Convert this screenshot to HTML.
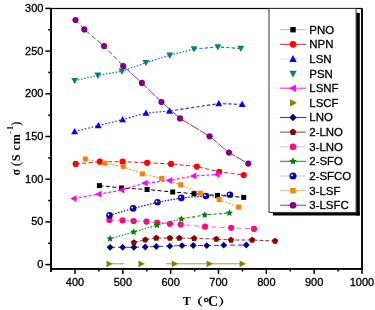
<!DOCTYPE html>
<html><head><meta charset="utf-8"><style>
html,body{margin:0;padding:0;background:#fff;width:375px;height:310px;overflow:hidden}
body{position:relative;font-family:"Liberation Sans",sans-serif}
text{fill:#000;stroke:#000;stroke-width:0.3px}
</style></head><body>
<svg width="375" height="310" viewBox="0 0 375 310" style="position:absolute;left:0;top:0;will-change:transform"><rect width="375" height="310" fill="#ffffff"/><polyline points="99.4,185.6 121.6,188 147.1,189.5 172.7,192 194,193.7 217.5,195.4 243.7,197.4" fill="none" stroke="#000" stroke-width="1.0" stroke-dasharray="4,2.5"/><polyline points="75.7,163.9 99.8,161.7 122.6,161.7 147.1,162.8 171,163.9 196.8,166.6 219.2,171.8 243.7,175" fill="none" stroke="#e02020" stroke-width="1.0" stroke-dasharray="4,2.5"/><polyline points="74.6,131.6 98.3,125.6 122.6,119.6 146,113 169.6,111" fill="none" stroke="#2828d8" stroke-width="1.15" stroke-dasharray="1.6,1.9"/><polyline points="169.6,111 218.8,103.6 242.2,104.4" fill="none" stroke="#2828d8" stroke-width="1.15" stroke-dasharray="3.2,2.2"/><polyline points="74.7,80.7 97.9,75.3 121.9,71.3 145.9,62.7 169.9,55.3 194,49" fill="none" stroke="#108080" stroke-width="1.15" stroke-dasharray="1.6,1.6"/><polyline points="194,49 217.9,46.9 240.8,48.5" fill="none" stroke="#108080" stroke-width="1.15" stroke-dasharray="3.2,2.2"/><polyline points="73.8,198.6 98.7,194.2 121.6,190.1 144.9,183.1 169.5,180.5 193.6,176 217,174.5" fill="none" stroke="#e020e0" stroke-width="1.2" stroke-dasharray="3,2"/><polyline points="109.2,263.8 124.4,263.8" fill="none" stroke="#a0a040" stroke-width="1.0"/><polyline points="166,263.8 242.3,263.8" fill="none" stroke="#a0a040" stroke-width="1.0"/><polyline points="110.1,247.3 122.7,247.3 133.9,247.3 145.3,247 156.3,246.5 169.9,246.2 182,245.6 193.3,245.5 206.8,245.6 223.7,245.2 246.3,245" fill="none" stroke="#3a3a9a" stroke-width="1.0" stroke-dasharray="5,3"/><polyline points="133.9,242.6 145.3,239.8 156.3,238.1 169.9,238.1 179.3,238.1 194.1,238.4 216.3,239.1 231,240 252.2,240 275,241.1" fill="none" stroke="#903030" stroke-width="1.0" stroke-dasharray="4,2"/><polyline points="109.4,219.9 122.5,220.4 133.6,221 146.5,221.6 157.2,222.5 169.9,223.8 180.7,224.6 205,226.7 231.2,227.8 253.9,228.9" fill="none" stroke="#e070a8" stroke-width="1.0" stroke-dasharray="5,3.5"/><polyline points="110.1,238.8 133.7,232 157,225.2 181.4,218.9" fill="none" stroke="#209020" stroke-width="1.2" stroke-dasharray="1.5,1.5"/><polyline points="181.4,218.9 204.7,215 229.4,212.9" fill="none" stroke="#209020" stroke-width="1.2" stroke-dasharray="3.2,2.2"/><polyline points="109.5,215.4 133.1,208.4 157.5,202.3 181.3,197.9 205.9,196 229.9,194.8" fill="none" stroke="#101090" stroke-width="1.2" stroke-dasharray="1.5,1.5"/><polyline points="85.3,159 104.7,163.2 123.3,166.6 142.4,173.9 161.6,178.4 180.6,184.8 200.4,193.3 219.2,199.5 238.6,207.1" fill="none" stroke="#f0a040" stroke-width="1.1" stroke-dasharray="2,1.5"/><polyline points="75.5,20.0 84.3,29.4 104.0,46.1 123.2,66" fill="none" stroke="#8a3090" stroke-width="1.0" stroke-dasharray="5,2.5"/><polyline points="123.2,66 141.9,82.9 161.5,102 180,118.4 209.6,136.3 228.9,152.6 248.3,163.6" fill="none" stroke="#8a3090" stroke-width="1.0" stroke-dasharray="10,1.2"/><rect x="96.90" y="183.10" width="5.00" height="5.00" fill="#000"/><rect x="119.10" y="185.50" width="5.00" height="5.00" fill="#000"/><rect x="144.60" y="187.00" width="5.00" height="5.00" fill="#000"/><rect x="170.20" y="189.50" width="5.00" height="5.00" fill="#000"/><rect x="191.50" y="191.20" width="5.00" height="5.00" fill="#000"/><rect x="215.00" y="192.90" width="5.00" height="5.00" fill="#000"/><rect x="241.20" y="194.90" width="5.00" height="5.00" fill="#000"/><circle cx="75.70" cy="163.90" r="3.10" fill="#ff0000"/><circle cx="99.80" cy="161.70" r="3.10" fill="#ff0000"/><circle cx="122.60" cy="161.70" r="3.10" fill="#ff0000"/><circle cx="147.10" cy="162.80" r="3.10" fill="#ff0000"/><circle cx="171.00" cy="163.90" r="3.10" fill="#ff0000"/><circle cx="196.80" cy="166.60" r="3.10" fill="#ff0000"/><circle cx="219.20" cy="171.80" r="3.10" fill="#ff0000"/><circle cx="243.70" cy="175.00" r="3.10" fill="#ff0000"/><polygon points="74.60,128.00 78.02,134.30 71.18,134.30" fill="#0000ff"/><polygon points="98.30,122.00 101.72,128.30 94.88,128.30" fill="#0000ff"/><polygon points="122.60,116.00 126.02,122.30 119.18,122.30" fill="#0000ff"/><polygon points="146.00,109.40 149.42,115.70 142.58,115.70" fill="#0000ff"/><polygon points="169.60,107.40 173.02,113.70 166.18,113.70" fill="#0000ff"/><polygon points="218.80,100.00 222.22,106.30 215.38,106.30" fill="#0000ff"/><polygon points="242.20,100.80 245.62,107.10 238.78,107.10" fill="#0000ff"/><polygon points="74.70,84.30 78.12,78.00 71.28,78.00" fill="#008080"/><polygon points="97.90,78.90 101.32,72.60 94.48,72.60" fill="#008080"/><polygon points="121.90,74.90 125.32,68.60 118.48,68.60" fill="#008080"/><polygon points="145.90,66.30 149.32,60.00 142.48,60.00" fill="#008080"/><polygon points="169.90,58.90 173.32,52.60 166.48,52.60" fill="#008080"/><polygon points="194.00,52.60 197.42,46.30 190.58,46.30" fill="#008080"/><polygon points="217.90,50.50 221.32,44.20 214.48,44.20" fill="#008080"/><polygon points="240.80,52.10 244.22,45.80 237.38,45.80" fill="#008080"/><polygon points="70.20,198.60 76.50,195.18 76.50,202.02" fill="#ff00ff"/><polygon points="95.10,194.20 101.40,190.78 101.40,197.62" fill="#ff00ff"/><polygon points="118.00,190.10 124.30,186.68 124.30,193.52" fill="#ff00ff"/><polygon points="141.30,183.10 147.60,179.68 147.60,186.52" fill="#ff00ff"/><polygon points="165.90,180.50 172.20,177.08 172.20,183.92" fill="#ff00ff"/><polygon points="190.00,176.00 196.30,172.58 196.30,179.42" fill="#ff00ff"/><polygon points="213.40,174.50 219.70,171.08 219.70,177.92" fill="#ff00ff"/><polygon points="112.80,263.80 106.50,260.38 106.50,267.22" fill="#808000"/><polygon points="144.80,263.80 138.50,260.38 138.50,267.22" fill="#808000"/><polygon points="178.10,263.80 171.80,260.38 171.80,267.22" fill="#808000"/><polygon points="212.90,263.80 206.60,260.38 206.60,267.22" fill="#808000"/><polygon points="245.90,263.80 239.60,260.38 239.60,267.22" fill="#808000"/><polygon points="110.10,243.90 113.50,247.30 110.10,250.70 106.70,247.30" fill="#000080"/><polygon points="122.70,243.90 126.10,247.30 122.70,250.70 119.30,247.30" fill="#000080"/><polygon points="133.90,243.90 137.30,247.30 133.90,250.70 130.50,247.30" fill="#000080"/><polygon points="145.30,243.60 148.70,247.00 145.30,250.40 141.90,247.00" fill="#000080"/><polygon points="156.30,243.10 159.70,246.50 156.30,249.90 152.90,246.50" fill="#000080"/><polygon points="169.90,242.80 173.30,246.20 169.90,249.60 166.50,246.20" fill="#000080"/><polygon points="182.00,242.20 185.40,245.60 182.00,249.00 178.60,245.60" fill="#000080"/><polygon points="193.30,242.10 196.70,245.50 193.30,248.90 189.90,245.50" fill="#000080"/><polygon points="206.80,242.20 210.20,245.60 206.80,249.00 203.40,245.60" fill="#000080"/><polygon points="223.70,241.80 227.10,245.20 223.70,248.60 220.30,245.20" fill="#000080"/><polygon points="246.30,241.60 249.70,245.00 246.30,248.40 242.90,245.00" fill="#000080"/><polygon points="133.90,239.30 137.04,241.58 135.84,245.27 131.96,245.27 130.76,241.58" fill="#8b0000"/><polygon points="145.30,236.50 148.44,238.78 147.24,242.47 143.36,242.47 142.16,238.78" fill="#8b0000"/><polygon points="156.30,234.80 159.44,237.08 158.24,240.77 154.36,240.77 153.16,237.08" fill="#8b0000"/><polygon points="169.90,234.80 173.04,237.08 171.84,240.77 167.96,240.77 166.76,237.08" fill="#8b0000"/><polygon points="179.30,234.80 182.44,237.08 181.24,240.77 177.36,240.77 176.16,237.08" fill="#8b0000"/><polygon points="194.10,235.10 197.24,237.38 196.04,241.07 192.16,241.07 190.96,237.38" fill="#8b0000"/><polygon points="216.30,235.80 219.44,238.08 218.24,241.77 214.36,241.77 213.16,238.08" fill="#8b0000"/><polygon points="231.00,236.70 234.14,238.98 232.94,242.67 229.06,242.67 227.86,238.98" fill="#8b0000"/><polygon points="252.20,236.70 255.34,238.98 254.14,242.67 250.26,242.67 249.06,238.98" fill="#8b0000"/><polygon points="275.00,237.80 278.14,240.08 276.94,243.77 273.06,243.77 271.86,240.08" fill="#8b0000"/><circle cx="109.40" cy="219.90" r="3.10" fill="#ff0a80"/><circle cx="122.50" cy="220.40" r="3.10" fill="#ff0a80"/><circle cx="133.60" cy="221.00" r="3.10" fill="#ff0a80"/><circle cx="146.50" cy="221.60" r="3.10" fill="#ff0a80"/><circle cx="157.20" cy="222.50" r="3.10" fill="#ff0a80"/><circle cx="169.90" cy="223.80" r="3.10" fill="#ff0a80"/><circle cx="180.70" cy="224.60" r="3.10" fill="#ff0a80"/><circle cx="205.00" cy="226.70" r="3.10" fill="#ff0a80"/><circle cx="231.20" cy="227.80" r="3.10" fill="#ff0a80"/><circle cx="253.90" cy="228.90" r="3.10" fill="#ff0a80"/><polygon points="110.10,235.10 111.14,237.36 113.62,237.66 111.79,239.35 112.27,241.79 110.10,240.58 107.93,241.79 108.41,239.35 106.58,237.66 109.06,237.36" fill="#008000"/><polygon points="133.70,228.30 134.74,230.56 137.22,230.86 135.39,232.55 135.87,234.99 133.70,233.78 131.53,234.99 132.01,232.55 130.18,230.86 132.66,230.56" fill="#008000"/><polygon points="157.00,221.50 158.04,223.76 160.52,224.06 158.69,225.75 159.17,228.19 157.00,226.98 154.83,228.19 155.31,225.75 153.48,224.06 155.96,223.76" fill="#008000"/><polygon points="181.40,215.20 182.44,217.46 184.92,217.76 183.09,219.45 183.57,221.89 181.40,220.68 179.23,221.89 179.71,219.45 177.88,217.76 180.36,217.46" fill="#008000"/><polygon points="204.70,211.30 205.74,213.56 208.22,213.86 206.39,215.55 206.87,217.99 204.70,216.78 202.53,217.99 203.01,215.55 201.18,213.86 203.66,213.56" fill="#008000"/><polygon points="229.40,209.20 230.44,211.46 232.92,211.76 231.09,213.45 231.57,215.89 229.40,214.68 227.23,215.89 227.71,213.45 225.88,211.76 228.36,211.46" fill="#008000"/><circle cx="109.50" cy="215.40" r="3.30" fill="#0808a8"/><circle cx="108.50" cy="214.60" r="0.90" fill="#fff"/><circle cx="133.10" cy="208.40" r="3.30" fill="#0808a8"/><circle cx="132.10" cy="207.60" r="0.90" fill="#fff"/><circle cx="157.50" cy="202.30" r="3.30" fill="#0808a8"/><circle cx="156.50" cy="201.50" r="0.90" fill="#fff"/><circle cx="181.30" cy="197.90" r="3.30" fill="#0808a8"/><circle cx="180.30" cy="197.10" r="0.90" fill="#fff"/><circle cx="205.90" cy="196.00" r="3.30" fill="#0808a8"/><circle cx="204.90" cy="195.20" r="0.90" fill="#fff"/><circle cx="229.90" cy="194.80" r="3.30" fill="#0808a8"/><circle cx="228.90" cy="194.00" r="0.90" fill="#fff"/><rect x="82.80" y="156.50" width="5.00" height="5.00" fill="#ff8000"/><rect x="102.20" y="160.70" width="5.00" height="5.00" fill="#ff8000"/><rect x="120.80" y="164.10" width="5.00" height="5.00" fill="#ff8000"/><rect x="139.90" y="171.40" width="5.00" height="5.00" fill="#ff8000"/><rect x="159.10" y="175.90" width="5.00" height="5.00" fill="#ff8000"/><rect x="178.10" y="182.30" width="5.00" height="5.00" fill="#ff8000"/><rect x="197.90" y="190.80" width="5.00" height="5.00" fill="#ff8000"/><rect x="216.70" y="197.00" width="5.00" height="5.00" fill="#ff8000"/><rect x="236.10" y="204.60" width="5.00" height="5.00" fill="#ff8000"/><circle cx="75.50" cy="20.00" r="3.10" fill="#800080"/><circle cx="84.30" cy="29.40" r="3.10" fill="#800080"/><circle cx="104.00" cy="46.10" r="3.10" fill="#800080"/><circle cx="123.20" cy="66.00" r="3.10" fill="#800080"/><circle cx="141.90" cy="82.90" r="3.10" fill="#800080"/><circle cx="161.50" cy="102.00" r="3.10" fill="#800080"/><circle cx="180.00" cy="118.40" r="3.10" fill="#800080"/><circle cx="209.60" cy="136.30" r="3.10" fill="#800080"/><circle cx="228.90" cy="152.60" r="3.10" fill="#800080"/><circle cx="248.30" cy="163.60" r="3.10" fill="#800080"/><rect x="51" y="8.5" width="311" height="260.4" fill="none" stroke="#000" stroke-width="1.2"/><line x1="51" y1="7.9" x2="51" y2="271.7" stroke="#000" stroke-width="1.9"/><line x1="50.1" y1="268.9" x2="362.9" y2="268.9" stroke="#000" stroke-width="1.8"/><line x1="362" y1="8.5" x2="362" y2="268.9" stroke="#000" stroke-width="1.7"/><line x1="45.4" y1="264.60" x2="51" y2="264.60" stroke="#000" stroke-width="1.5"/><text x="43.4" y="268.10" text-anchor="end" font-family="Liberation Sans" font-size="11">0</text><line x1="48.2" y1="243.25" x2="51" y2="243.25" stroke="#000" stroke-width="1.5"/><line x1="45.4" y1="221.90" x2="51" y2="221.90" stroke="#000" stroke-width="1.5"/><text x="43.4" y="225.40" text-anchor="end" font-family="Liberation Sans" font-size="11">50</text><line x1="48.2" y1="200.55" x2="51" y2="200.55" stroke="#000" stroke-width="1.5"/><line x1="45.4" y1="179.20" x2="51" y2="179.20" stroke="#000" stroke-width="1.5"/><text x="43.4" y="182.70" text-anchor="end" font-family="Liberation Sans" font-size="11">100</text><line x1="48.2" y1="157.85" x2="51" y2="157.85" stroke="#000" stroke-width="1.5"/><line x1="45.4" y1="136.50" x2="51" y2="136.50" stroke="#000" stroke-width="1.5"/><text x="43.4" y="140.00" text-anchor="end" font-family="Liberation Sans" font-size="11">150</text><line x1="48.2" y1="115.15" x2="51" y2="115.15" stroke="#000" stroke-width="1.5"/><line x1="45.4" y1="93.80" x2="51" y2="93.80" stroke="#000" stroke-width="1.5"/><text x="43.4" y="97.30" text-anchor="end" font-family="Liberation Sans" font-size="11">200</text><line x1="48.2" y1="72.45" x2="51" y2="72.45" stroke="#000" stroke-width="1.5"/><line x1="45.4" y1="51.10" x2="51" y2="51.10" stroke="#000" stroke-width="1.5"/><text x="43.4" y="54.60" text-anchor="end" font-family="Liberation Sans" font-size="11">250</text><line x1="48.2" y1="29.75" x2="51" y2="29.75" stroke="#000" stroke-width="1.5"/><line x1="45.4" y1="8.40" x2="51" y2="8.40" stroke="#000" stroke-width="1.5"/><text x="43.4" y="11.90" text-anchor="end" font-family="Liberation Sans" font-size="11">300</text><line x1="75.00" y1="268.9" x2="75.00" y2="273.9" stroke="#000" stroke-width="1.5"/><text x="75.00" y="285.6" text-anchor="middle" font-family="Liberation Sans" font-size="11">400</text><line x1="122.83" y1="268.9" x2="122.83" y2="273.9" stroke="#000" stroke-width="1.5"/><text x="122.83" y="285.6" text-anchor="middle" font-family="Liberation Sans" font-size="11">500</text><line x1="170.67" y1="268.9" x2="170.67" y2="273.9" stroke="#000" stroke-width="1.5"/><text x="170.67" y="285.6" text-anchor="middle" font-family="Liberation Sans" font-size="11">600</text><line x1="218.50" y1="268.9" x2="218.50" y2="273.9" stroke="#000" stroke-width="1.5"/><text x="218.50" y="285.6" text-anchor="middle" font-family="Liberation Sans" font-size="11">700</text><line x1="266.33" y1="268.9" x2="266.33" y2="273.9" stroke="#000" stroke-width="1.5"/><text x="266.33" y="285.6" text-anchor="middle" font-family="Liberation Sans" font-size="11">800</text><line x1="314.16" y1="268.9" x2="314.16" y2="273.9" stroke="#000" stroke-width="1.5"/><text x="314.16" y="285.6" text-anchor="middle" font-family="Liberation Sans" font-size="11">900</text><line x1="362.00" y1="268.9" x2="362.00" y2="273.9" stroke="#000" stroke-width="1.5"/><text x="362.00" y="285.6" text-anchor="middle" font-family="Liberation Sans" font-size="11">1000</text><line x1="51.08" y1="268.9" x2="51.08" y2="271.5" stroke="#000" stroke-width="1.5"/><line x1="98.92" y1="268.9" x2="98.92" y2="271.5" stroke="#000" stroke-width="1.5"/><line x1="146.75" y1="268.9" x2="146.75" y2="271.5" stroke="#000" stroke-width="1.5"/><line x1="194.58" y1="268.9" x2="194.58" y2="271.5" stroke="#000" stroke-width="1.5"/><line x1="242.42" y1="268.9" x2="242.42" y2="271.5" stroke="#000" stroke-width="1.5"/><line x1="290.25" y1="268.9" x2="290.25" y2="271.5" stroke="#000" stroke-width="1.5"/><line x1="338.08" y1="268.9" x2="338.08" y2="271.5" stroke="#000" stroke-width="1.5"/><rect x="356.1" y="12.9" width="3.7" height="202.6" fill="#000"/><rect x="272.9" y="212.4" width="86.90000000000003" height="3.0999999999999943" fill="#000"/><rect x="269" y="8.5" width="87.10000000000002" height="203.9" fill="#fff" stroke="#333" stroke-width="1"/><line x1="280" y1="29.70" x2="306" y2="29.70" stroke="#c4c4c4" stroke-width="1.2"/><rect x="290.30" y="27.00" width="5.40" height="5.40" fill="#000"/><text x="309.3" y="33.70" font-family="Liberation Sans" font-size="11.45">PNO</text><line x1="280" y1="44.33" x2="306" y2="44.33" stroke="#d84848" stroke-width="1.2"/><circle cx="293.00" cy="44.33" r="3.35" fill="#ff0000"/><text x="309.3" y="48.33" font-family="Liberation Sans" font-size="11.45">NPN</text><line x1="280" y1="58.96" x2="306" y2="58.96" stroke="#e6e6f0" stroke-width="1.2"/><polygon points="293.00,55.07 296.69,61.88 289.31,61.88" fill="#0000ff"/><text x="309.3" y="62.96" font-family="Liberation Sans" font-size="11.45">LSN</text><polygon points="293.00,77.48 296.69,70.67 289.31,70.67" fill="#008080"/><text x="309.3" y="77.59" font-family="Liberation Sans" font-size="11.45">PSN</text><line x1="280" y1="88.22" x2="306" y2="88.22" stroke="#f040f0" stroke-width="1.2"/><polygon points="289.11,88.22 295.92,84.53 295.92,91.91" fill="#ff00ff"/><text x="309.3" y="92.22" font-family="Liberation Sans" font-size="11.45">LSNF</text><polygon points="296.89,102.85 290.08,99.16 290.08,106.54" fill="#808000"/><text x="309.3" y="106.85" font-family="Liberation Sans" font-size="11.45">LSCF</text><line x1="280" y1="117.48" x2="306" y2="117.48" stroke="#4848a0" stroke-width="1.2"/><polygon points="293.00,113.81 296.67,117.48 293.00,121.15 289.33,117.48" fill="#000080"/><text x="309.3" y="121.48" font-family="Liberation Sans" font-size="11.45">LNO</text><line x1="280" y1="132.11" x2="306" y2="132.11" stroke="#a06060" stroke-width="1.2"/><polygon points="293.00,128.55 296.39,131.01 295.09,134.99 290.91,134.99 289.61,131.01" fill="#8b0000"/><text x="309.3" y="136.11" font-family="Liberation Sans" font-size="11.45">2-LNO</text><line x1="280" y1="146.74" x2="306" y2="146.74" stroke="#e0d0e0" stroke-width="1.2"/><circle cx="293.00" cy="146.74" r="3.35" fill="#ff0a80"/><text x="309.3" y="150.74" font-family="Liberation Sans" font-size="11.45">3-LNO</text><line x1="280" y1="161.37" x2="306" y2="161.37" stroke="#40a040" stroke-width="1.2"/><polygon points="293.00,157.37 294.13,159.82 296.80,160.14 294.82,161.96 295.35,164.60 293.00,163.29 290.65,164.60 291.18,161.96 289.20,160.14 291.87,159.82" fill="#008000"/><text x="309.3" y="165.37" font-family="Liberation Sans" font-size="11.45">2-SFO</text><line x1="280" y1="176.00" x2="306" y2="176.00" stroke="#d0d0e0" stroke-width="1.2"/><circle cx="293.00" cy="176.00" r="3.56" fill="#0808a8"/><circle cx="292.00" cy="175.20" r="0.97" fill="#fff"/><text x="309.3" y="180.00" font-family="Liberation Sans" font-size="11.45">2-SFCO</text><line x1="280" y1="190.63" x2="306" y2="190.63" stroke="#f0c080" stroke-width="1.2"/><rect x="290.30" y="187.93" width="5.40" height="5.40" fill="#ff8000"/><text x="309.3" y="194.63" font-family="Liberation Sans" font-size="11.45">3-LSF</text><line x1="280" y1="205.26" x2="306" y2="205.26" stroke="#a060a8" stroke-width="1.2"/><circle cx="293.00" cy="205.26" r="3.35" fill="#800080"/><text x="309.3" y="209.26" font-family="Liberation Sans" font-size="11.45">3-LSFC</text><text x="182.7" y="304.9" font-family="Liberation Serif" font-weight="bold" style="stroke-width:0" font-size="12">T</text><path d="M201.9,296.2 Q193.9,301.5 201.9,306.8 L202.3,306.4 Q196.6,301.5 202.3,296.6 Z" fill="#000"/><text x="203.6" y="306.3" font-family="Liberation Serif" style="stroke-width:0.45px" font-size="13.5">°</text><text x="208.1" y="306.3" font-family="Liberation Serif" font-weight="bold" style="stroke-width:0" font-size="14">C</text><path d="M219.4,296.2 Q227.3,301.5 219.4,306.8 L219.0,306.4 Q224.7,301.5 219.0,296.6 Z" fill="#000"/><g transform="translate(19.8,176) rotate(-90)"><text x="0.59" y="0" font-family="Liberation Serif" font-weight="bold" style="stroke-width:0" font-size="12">σ</text><text x="10.03" y="0" font-family="Liberation Serif" style="stroke-width:0.1px" font-size="12">(</text><text x="14.75" y="0" font-family="Liberation Serif" font-weight="bold" style="stroke-width:0" font-size="12">S</text><text x="25.53" y="0" font-family="Liberation Serif" font-weight="bold" style="stroke-width:0" font-size="12">c</text><text x="31.74" y="0" font-family="Liberation Serif" font-weight="bold" style="stroke-width:0" font-size="12">m</text><text x="42.22" y="-6.5" font-family="Liberation Serif" font-weight="bold" style="stroke-width:0" font-size="8">-</text><text x="45.99" y="-6.5" font-family="Liberation Serif" font-weight="bold" style="stroke-width:0" font-size="8">1</text><text x="50.22" y="0" font-family="Liberation Serif" style="stroke-width:0.1px" font-size="12">)</text></g></svg>
</body></html>
